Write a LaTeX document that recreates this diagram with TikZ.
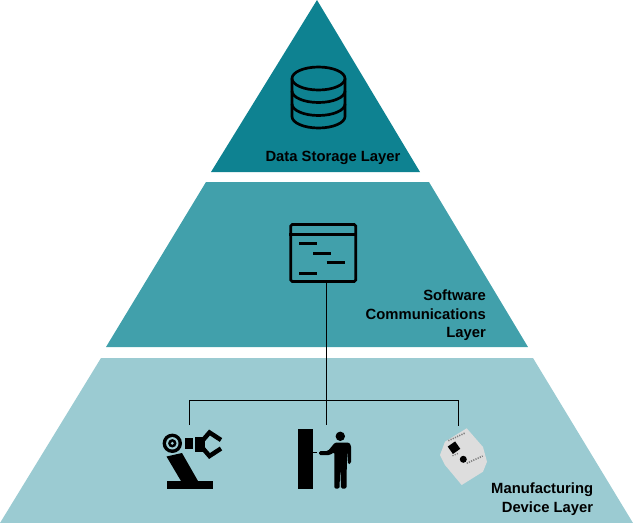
\documentclass[tikz,border=0pt]{standalone}
\usepackage{fontspec}
\setmainfont{Liberation Sans}
\definecolor{storagecol}{HTML}{0E8291}
\definecolor{softwarecol}{HTML}{41A0AB}
\definecolor{devicecol}{HTML}{9BCBD2}
\definecolor{boardcol}{HTML}{DDDDDD}
\tikzset{
  layerlabel/.style={font=\bfseries\fontsize{14.8}{18.7}\selectfont,inner sep=0,align=right},
  iconline/.style={line width=2.7pt,black},
  wire/.style={line width=1pt,black},
}
\begin{document}
\begin{tikzpicture}[x=1pt,y=-1pt]
\useasboundingbox (0,0) rectangle (633,523);
% layers
\fill [storagecol] (317,0) -- (420,172) -- (211,172) -- cycle;
\fill [softwarecol] (206,182) -- (429,182) -- (528,347) -- (106,347) -- cycle;
\fill [devicecol] (101,358) -- (533,358) -- (633,523) -- (0,523) -- cycle;
\node [layerlabel,anchor=mid] (storage) at (333,158.8) {Data Storage Layer};
\node [layerlabel,anchor=north east] (software) at (486,289.5) {Software\\Communications\\Layer};
\node [layerlabel,anchor=north west] (manufacturing) at (491,483) {Manufacturing\\Device Layer};
% database
\draw [iconline] (292,78.5) -- (292,116.5) arc [start angle=180,end angle=0,x radius=26.5,y radius=11.5] -- (345,78.5);
\draw [iconline] (318.5,78.5) ellipse [x radius=26.5,y radius=11.5];
\draw [iconline] (292,91) arc [start angle=180,end angle=0,x radius=26.5,y radius=11.5];
\draw [iconline] (292,104) arc [start angle=180,end angle=0,x radius=26.5,y radius=11.5];
% window
\node [draw,iconline,rounded corners=1.5pt,minimum width=65pt,minimum height=57pt,inner sep=0] (window) at (323.3,253) {};
\draw [iconline] (window.west |- 0,234.5) -- (window.east |- 0,234.5);
\draw [iconline] (299,243.7) -- (317,243.7);
\draw [iconline] (313,253.3) -- (331,253.3);
\draw [iconline] (326.5,262.8) -- (344.5,262.8);
\draw [iconline] (299,273.5) -- (317,273.5);
% robot
\fill (167.3,481) rectangle (212.7,489);
\fill (166.5,456.5) -- (182,453) -- (198,481) -- (181,481) -- cycle;
\fill (172.3,443.3) circle [radius=9.7];
\fill [devicecol] (172.3,443.3) circle [radius=6.2];
\fill (172.3,443.3) circle [radius=4.2];
\fill [devicecol] (172.3,443.3) circle [radius=1.6];
\fill (185,438) rectangle (192.7,449);
\fill (195,436.7) rectangle (205,451.7);
\draw [line width=4.5pt,line join=miter] (203,440) -- (209.5,432.5) -- (221,440);
\draw [line width=4.5pt,line join=miter] (203,448.5) -- (209.5,456) -- (221,448.5);
% operator
\fill (298.3,429) rectangle (313,488.7);
\draw [line width=1pt] (313,452.7) -- (316.7,452.7);
\fill (340.3,436.3) circle [radius=4.7];
\fill [rounded corners=1.5pt] (319,451) -- (328,451) -- (335,442.5) -- (349,442.5) -- (351,445) -- (351,463.5) -- (348,464.5) -- (347,450) -- (346.5,488.7) -- (341,488.7) -- (340.3,466) -- (339.5,488.7) -- (334.3,488.7) -- (334.3,452) -- (330,455) -- (319,455) -- cycle;
% board
\fill [boardcol] (445,441.7) -- (466.7,428.3) -- (483,447) -- (487,461.7) -- (483,471.7) -- (461.7,485) -- (445,465) -- (440,455) -- cycle;
\fill [rotate around={35:(454,447.7)}] (449.5,443.2) rectangle (458.5,452.2);
\fill (463.3,459.3) circle [radius=3.5];
\draw [gray,line width=1.6pt,dash pattern=on 1.2pt off 1.2pt] (448.3,440.7) -- (465.7,432.7);
\draw [gray,line width=1.6pt,dash pattern=on 1.2pt off 1.2pt] (466.7,463.3) -- (482.7,456);
\draw [gray,line width=1.2pt,dash pattern=on 1.2pt off 1.2pt] (458,453.5) -- (452,456);
% wires
\coordinate (windowfoot) at (326.5,282);
\coordinate (hub) at (326.5,400.3);
\coordinate (robotdrop) at (189.7,425);
\coordinate (operatordrop) at (326.5,425);
\coordinate (boarddrop) at (458.7,425.5);
\draw [wire] (windowfoot) -- (operatordrop);
\draw [wire] (robotdrop) |- (hub);
\draw [wire] (hub) -| (boarddrop);
\end{tikzpicture}
\end{document}
